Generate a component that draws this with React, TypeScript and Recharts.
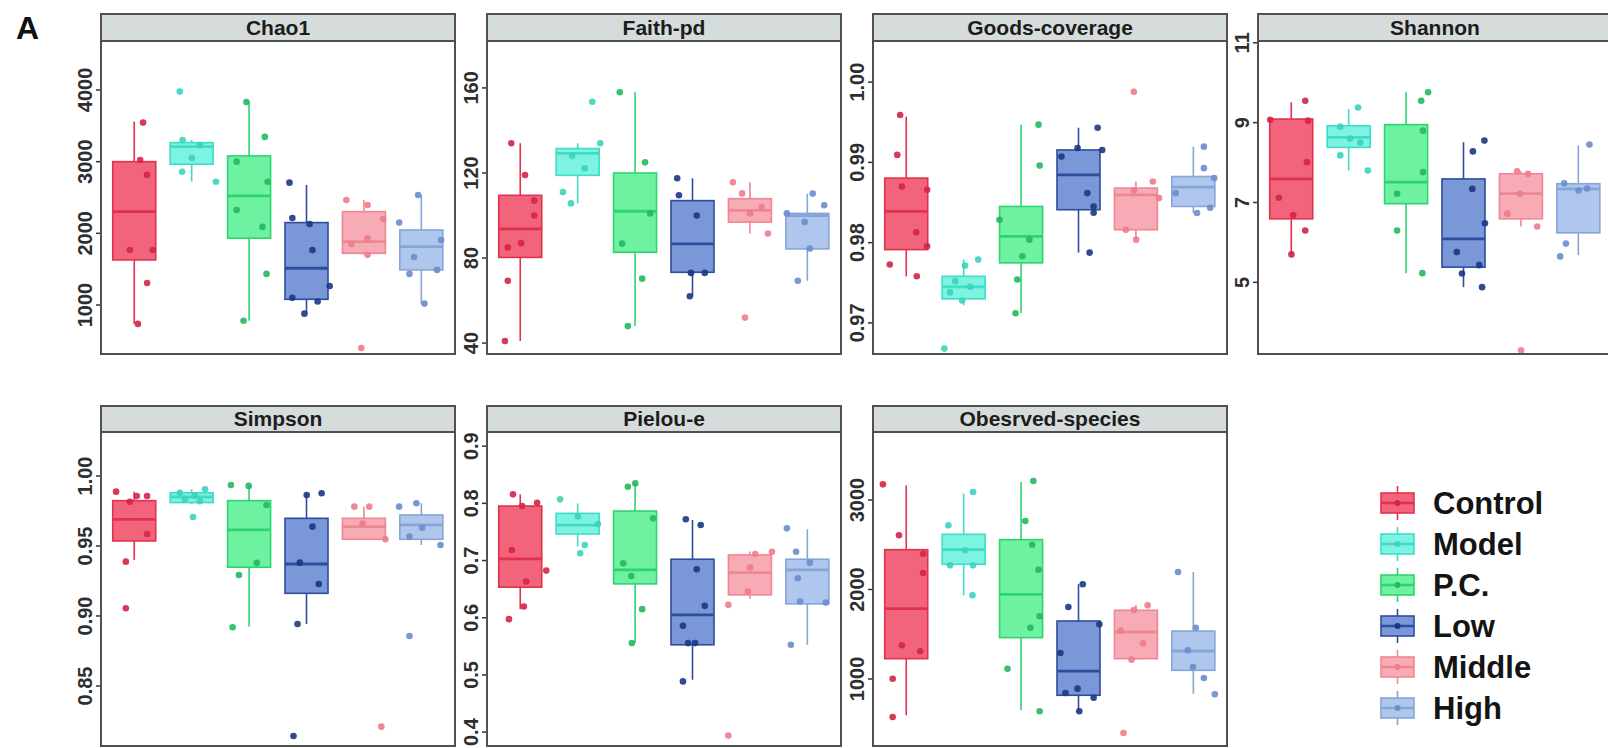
import React from 'react';
import { ComposedChart, Bar, Scatter, XAxis, YAxis } from 'recharts';

const FONT = "'Liberation Sans', Arial, Helvetica, sans-serif";

const groups = ['Control', 'Model', 'P.C.', 'Low', 'Middle', 'High'];

// box stats per group: [lowerWhisker, q1, median, q3, upperWhisker]
const chao1Stats = [
  [737, 1629, 2303, 3000, 3558],
  [2720, 2964, 3210, 3265, 3303],
  [780, 1932, 2522, 3080, 3837],
  [880, 1080, 1513, 2150, 2675],
  [1700, 1722, 1885, 2303, 2466],
  [1020, 1490, 1814, 2047, 2535],
];
// points per group: [value, jitter]
const chao1Points = [
  [[3545, 0.15], [3024, 0.1], [2815, 0.22], [1768, -0.08], [1768, 0.32], [1308, 0.22], [737, 0.06]],
  [[3977, -0.21], [3303, -0.16], [3230, 0.14], [3050, 0], [2860, -0.17], [2720, 0.42]],
  [[3833, -0.05], [3345, 0.27], [3000, -0.22], [2720, 0.32], [2326, -0.22], [2090, 0.23], [1434, 0.3], [780, -0.1]],
  [[2707, -0.3], [2215, -0.25], [2131, 0.05], [1768, 0.1], [1266, 0.4], [1100, -0.25], [1050, 0.19], [880, -0.04]],
  [[2466, -0.31], [2396, 0.06], [2200, 0.33], [1932, 0.06], [1700, 0.06], [1850, -0.22], [400, -0.05]],
  [[2535, -0.06], [2150, -0.39], [1908, 0.34], [1670, -0.13], [1434, -0.21], [1490, 0.27], [1020, 0.05]],
];
const chao1Ticks = [1000, 2000, 3000, 4000];

const faithStats = [
  [41, 80.3, 93.7, 109.5, 134],
  [105.7, 118.9, 129.2, 131.5, 134],
  [48, 82.7, 102, 120, 158],
  [62, 73.3, 86.7, 107, 117.5],
  [91.5, 96.9, 102.4, 107.9, 115.6],
  [69.3, 84.3, 100, 101, 110.3],
];
const faithPoints = [
  [[134, -0.16], [119, 0.08], [107, 0.24], [100, 0.24], [85, -0.22], [87, 0.01], [69.3, -0.22], [41, -0.27]],
  [[153.5, 0.25], [134, 0.39], [128, -0.1], [122.2, 0.12], [111, -0.26], [105.7, -0.12]],
  [[158, -0.27], [125, 0.17], [101, 0.26], [86.8, -0.23], [70.3, 0.12], [48, -0.13]],
  [[117.5, -0.27], [109.5, -0.24], [100, 0.07], [73, -0.03], [73, 0.21], [62, -0.05]],
  [[115.6, -0.3], [110.4, -0.14], [104, 0.2], [101, 0], [91.5, 0.31], [52, -0.09]],
  [[110.3, 0.09], [104.8, 0.29], [101, -0.36], [97, -0.05], [84.5, 0.04], [69.3, -0.17]],
];
const faithTicks = [40, 80, 120, 160];

const goodsStats = [
  [0.9758, 0.97913, 0.98389, 0.98804, 0.9957],
  [0.9722, 0.973, 0.9745, 0.9758, 0.9779],
  [0.9712, 0.97748, 0.98078, 0.98451, 0.9947],
  [0.97876, 0.9841, 0.98845, 0.99155, 0.99432],
  [0.98037, 0.98161, 0.98596, 0.9868, 0.98762],
  [0.98369, 0.98451, 0.98692, 0.98824, 0.99196],
];
const goodsPoints = [
  [[0.9959, -0.11], [0.99093, -0.16], [0.987, -0.08], [0.98658, 0.36], [0.98128, 0.17], [0.97954, 0.36], [0.97727, -0.29], [0.97582, 0.18]],
  [[0.97789, 0.25], [0.97714, 0.02], [0.9752, -0.15], [0.9745, 0.11], [0.9738, -0.24], [0.9728, -0.03], [0.9668, -0.34]],
  [[0.9947, 0.3], [0.9896, 0.32], [0.98286, -0.38], [0.98037, 0.14], [0.9783, 0.02], [0.9754, -0.07], [0.9712, -0.1]],
  [[0.99432, 0.33], [0.9918, -0.02], [0.99155, 0.41], [0.99072, -0.3], [0.98617, 0.15], [0.98451, 0.26], [0.98373, 0.26], [0.97876, 0.19]],
  [[0.9988, -0.04], [0.98762, 0.29], [0.98556, 0.4], [0.9865, -0.04], [0.98161, -0.18], [0.98037, 0]],
  [[0.99196, 0.18], [0.98928, 0.18], [0.98804, 0.36], [0.98617, -0.31], [0.98435, 0.29], [0.98369, 0.06]],
];
const goodsTicks = [0.97, 0.98, 0.99, 1.0];

const shannonStats = [
  [5.68, 6.59, 7.59, 9.09, 9.51],
  [7.8, 8.38, 8.63, 8.92, 9.34],
  [5.23, 6.97, 7.51, 8.95, 9.76],
  [4.88, 5.38, 6.09, 7.59, 8.51],
  [6.4, 6.59, 7.22, 7.72, 7.78],
  [5.68, 6.24, 7.34, 7.47, 8.43],
];
const shannonPoints = [
  [[9.55, 0.24], [9.07, -0.37], [9.05, 0.29], [8.01, 0.27], [7.12, -0.22], [6.68, 0.03], [6.3, 0.24], [5.7, 0]],
  [[9.38, 0.16], [8.9, -0.15], [8.6, 0.02], [8.5, 0.2], [8.18, -0.15], [7.8, 0.33]],
  [[9.76, 0.38], [9.55, 0.26], [8.8, 0.29], [7.76, 0.29], [7.22, -0.16], [6.3, -0.16], [5.23, 0.28]],
  [[8.55, 0.36], [8.28, 0.16], [7.34, 0.15], [6.48, 0.37], [5.76, -0.12], [5.43, 0.27], [5.22, -0.03], [4.88, 0.32]],
  [[7.78, -0.07], [7.72, 0.12], [7.22, -0.02], [6.72, -0.24], [6.4, 0.28], [3.3, 0]],
  [[8.45, 0.19], [7.48, -0.25], [7.35, 0.15], [7.3, 0], [5.97, -0.22], [5.65, -0.32]],
];
const shannonTicks = [5, 7, 9, 11];

const simpsonStats = [
  [0.94, 0.95357, 0.96907, 0.98236, 0.9888],
  [0.98, 0.981, 0.985, 0.988, 0.9905],
  [0.8924, 0.93479, 0.96143, 0.98236, 0.9936],
  [0.8943, 0.91619, 0.93714, 0.96976, 0.98762],
  [0.9545, 0.95476, 0.96381, 0.96976, 0.9781],
  [0.9507, 0.95476, 0.965, 0.97214, 0.9805],
];
const simpsonPoints = [
  [[0.98879, -0.32], [0.98164, -0.08], [0.98571, 0.04], [0.98571, 0.22], [0.95857, 0.22], [0.93879, -0.15], [0.9055, -0.15]],
  [[0.9905, 0.23], [0.988, -0.21], [0.986, 0.05], [0.9835, -0.12], [0.982, 0.14], [0.9707, 0.02]],
  [[0.99357, -0.32], [0.9929, -0.01], [0.9793, 0.3], [0.9379, 0.13], [0.92929, -0.18], [0.89193, -0.29]],
  [[0.98643, 0], [0.98762, 0.26], [0.96381, 0.1], [0.9381, -0.12], [0.92286, 0.21], [0.89429, -0.16], [0.81429, -0.23]],
  [[0.9781, -0.17], [0.9781, 0.09], [0.966, -0.03], [0.9548, 0.37], [0.82095, 0.3]],
  [[0.9781, -0.39], [0.9805, -0.09], [0.963, 0.01], [0.9567, -0.21], [0.9507, 0.33], [0.8857, -0.21]],
];
const simpsonTicks = [0.85, 0.9, 0.95, 1.0];

const pielouStats = [
  [0.615, 0.6534, 0.7028, 0.7953, 0.8157],
  [0.7243, 0.7464, 0.7621, 0.7825, 0.8],
  [0.5557, 0.6592, 0.6836, 0.7866, 0.836],
  [0.4916, 0.5527, 0.6051, 0.7023, 0.7709],
  [0.633, 0.64, 0.6789, 0.7098, 0.716],
  [0.5527, 0.6243, 0.6836, 0.7023, 0.7546],
];
const pielouPoints = [
  [[0.8157, -0.13], [0.7953, 0.03], [0.8011, 0.29], [0.7185, -0.15], [0.6824, 0.45], [0.6632, 0.1], [0.6196, 0.06], [0.5975, -0.2]],
  [[0.807, -0.31], [0.777, 0], [0.764, 0.35], [0.7272, 0.12], [0.7127, 0.04]],
  [[0.8349, 0], [0.829, -0.13], [0.7738, 0.31], [0.6953, -0.21], [0.6731, -0.07], [0.615, 0.12], [0.5557, -0.06]],
  [[0.7721, -0.12], [0.7621, 0.14], [0.6848, 0.07], [0.6208, 0.21], [0.5859, -0.17], [0.5557, -0.08], [0.5557, 0.04], [0.4887, -0.17]],
  [[0.7155, 0.38], [0.7115, 0.09], [0.688, 0], [0.6457, -0.04], [0.6225, -0.38], [0.3939, -0.38]],
  [[0.7563, -0.36], [0.7155, -0.2], [0.6963, 0.04], [0.6691, -0.17], [0.6283, -0.13], [0.6265, 0.32], [0.5527, -0.29]],
];
const pielouTicks = [0.4, 0.5, 0.6, 0.7, 0.8, 0.9];

const observedStats = [
  [594, 1227, 1786, 2445, 3164],
  [1935, 2282, 2445, 2617, 3071],
  [650, 1462, 1946, 2557, 3201],
  [631, 818, 1089, 1648, 2059],
  [1216, 1227, 1525, 1768, 1827],
  [836, 1097, 1313, 1536, 2196],
];
const observedPoints = [
  [[3175, -0.41], [2606, -0.13], [2400, 0.29], [2184, 0.29], [1377, -0.08], [1310, 0.24], [1003, -0.24], [575, -0.24]],
  [[3089, 0.16], [2717, -0.27], [2438, 0.02], [2270, -0.24], [2270, 0.16], [1935, 0.15]],
  [[3212, 0.21], [2765, 0.07], [2501, 0.19], [2221, 0.3], [1701, 0.32], [1573, 0.16], [1115, -0.24], [639, 0.32]],
  [[2058, 0.07], [1804, -0.18], [1611, 0.36], [1291, -0.32], [892, -0.02], [844, -0.23], [791, 0.26], [639, 0.01]],
  [[1823, 0.2], [1770, -0.04], [1540, -0.27], [1400, 0.12], [1216, -0.08], [397, -0.22]],
  [[2196, -0.27], [1573, 0.04], [1321, -0.1], [1134, -0.01], [1011, 0.18], [829, 0.37]],
];
const observedTicks = [1000, 2000, 3000];

const fills = ['#F2637C', '#7DF3E1', '#6EF2A1', '#7A97D7', '#F7ABB4', '#AFC7EC'];
const strokes = ['#E0324F', '#40DCC6', '#2ED470', '#2F4D9D', '#EE8794', '#87A5D7'];
const dotColors = ['#D52447', '#3CD3BC', '#24B860', '#1B3785', '#EF7B8B', '#6A8DCD'];

const f0 = (v: number) => String(v);
const f1 = (v: number) => v.toFixed(1);
const f2 = (v: number) => v.toFixed(2);

const panels = [
  { title: 'Chao1', stats: chao1Stats, points: chao1Points, ticks: chao1Ticks, domain: [303, 4669], fmt: f0, col: 0, row: 0 },
  { title: 'Faith-pd', stats: faithStats, points: faithPoints, ticks: faithTicks, domain: [34.4, 181.6], fmt: f0, col: 1, row: 0 },
  { title: 'Goods-coverage', stats: goodsStats, points: goodsPoints, ticks: goodsTicks, domain: [0.966, 1.005], fmt: f2, col: 2, row: 0 },
  { title: 'Shannon', stats: shannonStats, points: shannonPoints, ticks: shannonTicks, domain: [3.18, 11.02], fmt: f0, col: 3, row: 0 },
  { title: 'Simpson', stats: simpsonStats, points: simpsonPoints, ticks: simpsonTicks, domain: [0.8064, 1.0307], fmt: f2, col: 0, row: 1 },
  { title: 'Pielou-e', stats: pielouStats, points: pielouPoints, ticks: pielouTicks, domain: [0.374, 0.923], fmt: f1, col: 1, row: 1 },
  { title: 'Obesrved-species', stats: observedStats, points: observedPoints, ticks: observedTicks, domain: [240, 3749], fmt: f0, col: 2, row: 1 },
];

const COL_X = [100, 486, 872, 1257];
const PANEL_W = 356;
const ROWS = [
  { top: 13, strip: 29, plotH: 313 },
  { top: 405, strip: 28, plotH: 314 },
];
const YW = 44;
const TOPPAD = 16;
const BORDER = '#505050';

const RotTick = (props: any) => {
  const { x, y, payload, fmt } = props;
  return (
    <text
      x={x}
      y={y}
      transform={`rotate(-90 ${x} ${y})`}
      textAnchor="middle"
      fontSize={20}
      fontWeight="bold"
      fill="#2e2e2e"
      fontFamily={FONT}
    >
      {fmt(payload.value)}
    </text>
  );
};

const BoxShape = (props: any) => {
  const { x, y, width, height } = props;
  const d = props.payload || props;
  const { wlo, q1, med, q3, whi, idx } = d;
  const top = Math.min(y, y + height);
  const bot = Math.max(y, y + height);
  const span = whi - wlo || 1;
  const py = (v: number) => top + ((whi - v) / span) * (bot - top);
  const cx = x + width / 2;
  const yq3 = py(q3);
  const yq1 = py(q1);
  const ym = py(med);
  const s = strokes[idx];
  return (
    <g>
      <line x1={cx} x2={cx} y1={top} y2={yq3} stroke={s} strokeWidth={1.6} />
      <line x1={cx} x2={cx} y1={yq1} y2={bot} stroke={s} strokeWidth={1.6} />
      <rect x={x} y={yq3} width={width} height={Math.max(yq1 - yq3, 0.5)} fill={fills[idx]} stroke={s} strokeWidth={1.6} />
      <line x1={x} x2={x + width} y1={ym} y2={ym} stroke={s} strokeWidth={2.8} />
    </g>
  );
};

function Panel({ def }: { def: any }) {
  const L = COL_X[def.col];
  const r = ROWS[def.row];
  const plotTop = r.top + r.strip;
  const band = PANEL_W / 6.2;
  const pad = band * 0.1;
  const barData = groups.map((g, i) => ({
    name: g,
    idx: i,
    wlo: def.stats[i][0],
    q1: def.stats[i][1],
    med: def.stats[i][2],
    q3: def.stats[i][3],
    whi: def.stats[i][4],
  }));
  const scatterData = groups.map((g, i) =>
    def.points[i].map((p: number[]) => ({ x: i + 1 + p[1], y: p[0] }))
  );
  return (
    <>
      <div
        style={{
          position: 'absolute',
          left: L,
          top: r.top,
          width: PANEL_W,
          height: r.strip,
          boxSizing: 'border-box',
          border: `2px solid ${BORDER}`,
          background: '#D6DCDB',
          display: 'flex',
          alignItems: 'center',
          justifyContent: 'center',
          fontFamily: FONT,
          fontWeight: 'bold',
          fontSize: 21,
          color: '#1c1c1c',
          whiteSpace: 'nowrap',
        }}
      >
        {def.title}
      </div>
      <div
        style={{
          position: 'absolute',
          left: L - YW,
          top: plotTop - TOPPAD,
          width: YW + PANEL_W,
          height: r.plotH + TOPPAD,
        }}
      >
        <ComposedChart
          width={YW + PANEL_W}
          height={r.plotH + TOPPAD}
          data={barData}
          margin={{ top: TOPPAD, right: 0, bottom: 0, left: 0 }}
        >
          <XAxis xAxisId="cat" dataKey="name" type="category" hide padding={{ left: pad, right: pad }} />
          <XAxis xAxisId="num" dataKey="x" type="number" domain={[0.4, 6.6]} hide allowDataOverflow />
          <YAxis
            yAxisId="v"
            type="number"
            domain={def.domain}
            ticks={def.ticks}
            interval={0}
            allowDataOverflow
            width={YW}
            axisLine={false}
            tickSize={4}
            tickMargin={4}
            tickLine={{ stroke: '#333', strokeWidth: 1.5 }}
            tick={(p: any) => <RotTick {...p} fmt={def.fmt} />}
          />
          <Bar
            xAxisId="cat"
            yAxisId="v"
            dataKey={(d: any) => [d.wlo, d.whi]}
            barSize={Math.round(band * 0.75)}
            shape={(p: any) => <BoxShape {...p} />}
            isAnimationActive={false}
          />
          {groups.map((g, i) => (
            <Scatter
              key={g}
              name={g}
              xAxisId="num"
              yAxisId="v"
              data={scatterData[i]}
              dataKey="y"
              fill={dotColors[i]}
              shape={(p: any) => <circle cx={p.cx} cy={p.cy} r={3.3} fill={dotColors[i]} fillOpacity={0.9} />}
              isAnimationActive={false}
            />
          ))}
        </ComposedChart>
      </div>
      <div
        style={{
          position: 'absolute',
          left: L,
          top: r.top,
          width: PANEL_W,
          height: r.strip + r.plotH,
          boxSizing: 'border-box',
          border: `2px solid ${BORDER}`,
          pointerEvents: 'none',
        }}
      />
    </>
  );
}

const legendRows = [503, 544, 585, 626, 667, 708];

function Legend() {
  return (
    <svg style={{ position: 'absolute', left: 0, top: 0 }} width={1608} height={748}>
      {groups.map((g, i) => {
        const cy = legendRows[i];
        return (
          <g key={g}>
            <line x1={1397.5} x2={1397.5} y1={cy - 17} y2={cy + 17} stroke={strokes[i]} strokeWidth={1.6} />
            <rect x={1381} y={cy - 10} width={33} height={20} fill={fills[i]} stroke={strokes[i]} strokeWidth={1.6} />
            <line x1={1381} x2={1414} y1={cy} y2={cy} stroke={strokes[i]} strokeWidth={2.4} />
            <circle cx={1397.5} cy={cy} r={3} fill={dotColors[i]} />
            <text x={1433} y={cy + 11} fontFamily={FONT} fontWeight="bold" fontSize={31} fill="#141414">
              {g}
            </text>
          </g>
        );
      })}
    </svg>
  );
}

export default function App() {
  return (
    <div
      style={{
        position: 'absolute',
        left: 0,
        top: 0,
        width: 1608,
        height: 748,
        overflow: 'hidden',
        background: '#ffffff',
      }}
    >
      <div
        style={{
          position: 'absolute',
          left: 16,
          top: 10,
          fontFamily: FONT,
          fontWeight: 'bold',
          fontSize: 32,
          color: '#111',
          lineHeight: '36px',
        }}
      >
        A
      </div>
      {panels.map((p) => (
        <Panel key={p.title} def={p} />
      ))}
      <Legend />
    </div>
  );
}
